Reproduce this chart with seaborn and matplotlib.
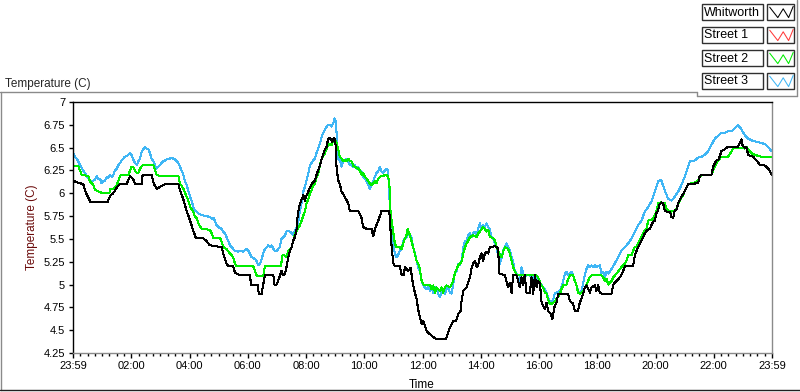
import matplotlib
matplotlib.use("Agg")
import matplotlib.pyplot as plt
import pandas as pd
import seaborn as sns
from matplotlib.lines import Line2D
from matplotlib.patches import Rectangle
from matplotlib.ticker import MultipleLocator

# time in hours after the 23:59 start, temperature in C
WHITWORTH = [
    (0.00, 6.14), (0.13, 6.12), (0.35, 6.10), (0.45, 6.00), (0.56, 5.93), (0.60, 5.90), (1.18, 5.90),
    (1.27, 5.97), (1.38, 6.00), (1.50, 6.06), (1.60, 6.10), (1.84, 6.10), (1.96, 6.19), (2.07, 6.15),
    (2.13, 6.10), (2.36, 6.10), (2.39, 6.20), (2.70, 6.20), (2.78, 6.10), (2.87, 6.05), (2.99, 6.07),
    (3.16, 6.10), (3.62, 6.10), (3.67, 6.04), (3.79, 5.93), (3.90, 5.81), (4.02, 5.70), (4.13, 5.59),
    (4.22, 5.51), (4.47, 5.51), (4.60, 5.47), (4.70, 5.43), (5.10, 5.41), (5.16, 5.34), (5.27, 5.23),
    (5.33, 5.20), (5.50, 5.20), (5.56, 5.13), (5.73, 5.10), (6.08, 5.10), (6.11, 5.00), (6.34, 5.00),
    (6.38, 4.90), (6.48, 4.90), (6.53, 5.00), (6.59, 5.10), (6.88, 5.10), (6.91, 5.00), (6.99, 5.00),
    (7.11, 5.10), (7.16, 5.15), (7.22, 5.10), (7.28, 5.12), (7.33, 5.19), (7.39, 5.30), (7.45, 5.37),
    (7.51, 5.41), (7.56, 5.48), (7.62, 5.52), (7.68, 5.61), (7.71, 5.74), (7.76, 5.85), (7.83, 5.92),
    (7.91, 5.98), (7.96, 5.92), (8.02, 5.98), (8.08, 6.02), (8.19, 6.10), (8.31, 6.14), (8.36, 6.20),
    (8.48, 6.31), (8.56, 6.40), (8.65, 6.48), (8.71, 6.51), (8.76, 6.60), (8.85, 6.60), (8.90, 6.56),
    (8.94, 6.60), (8.99, 6.60), (9.03, 6.48), (9.05, 6.27), (9.11, 6.14), (9.16, 6.10), (9.22, 6.02),
    (9.33, 5.96), (9.45, 5.89), (9.50, 5.81), (9.79, 5.81), (9.90, 5.74), (9.96, 5.63), (10.08, 5.61),
    (10.25, 5.61), (10.31, 5.53), (10.37, 5.61), (10.48, 5.70), (10.57, 5.78), (10.59, 5.81), (10.82, 5.81),
    (10.86, 5.80), (10.94, 5.41), (11.00, 5.23), (11.05, 5.20), (11.22, 5.20), (11.28, 5.11), (11.37, 5.11),
    (11.39, 5.19), (11.51, 5.15), (11.59, 5.18), (11.62, 5.12), (11.68, 4.99), (11.74, 4.91), (11.80, 4.84),
    (11.85, 4.73), (11.91, 4.64), (11.97, 4.57), (12.03, 4.60), (12.14, 4.49), (12.31, 4.44), (12.43, 4.41),
    (12.54, 4.40), (12.80, 4.40), (12.87, 4.46), (12.94, 4.53), (13.06, 4.60), (13.15, 4.60), (13.23, 4.68),
    (13.31, 4.71), (13.34, 4.82), (13.40, 4.93), (13.51, 4.97), (13.57, 5.02), (13.63, 5.08), (13.69, 5.19),
    (13.74, 5.23), (13.80, 5.26), (13.86, 5.19), (13.91, 5.21), (13.97, 5.30), (14.03, 5.34), (14.08, 5.26),
    (14.14, 5.34), (14.20, 5.36), (14.26, 5.34), (14.31, 5.41), (14.49, 5.42), (14.57, 5.41), (14.60, 5.36),
    (14.64, 5.12), (14.83, 5.10), (14.94, 4.97), (15.00, 5.02), (15.06, 4.91), (15.11, 5.10), (15.23, 5.10),
    (15.34, 4.97), (15.40, 5.08), (15.45, 5.00), (15.51, 5.10), (15.57, 4.91), (15.69, 4.91), (15.74, 5.08),
    (15.80, 4.90), (15.86, 5.10), (15.92, 4.97), (15.97, 5.04), (16.03, 5.02), (16.09, 4.80), (16.20, 4.73),
    (16.26, 4.80), (16.32, 4.71), (16.40, 4.68), (16.46, 4.62), (16.54, 4.77), (16.60, 4.80), (16.66, 4.90),
    (17.00, 4.90), (17.06, 4.82), (17.17, 4.79), (17.23, 4.71), (17.34, 4.71), (17.40, 4.80), (17.52, 4.90),
    (17.57, 4.97), (17.63, 4.99), (17.69, 4.95), (17.75, 4.91), (17.80, 4.97), (17.92, 4.99), (17.97, 4.93),
    (18.03, 4.99), (18.09, 4.91), (18.15, 4.90), (18.49, 4.90), (18.55, 5.00), (18.66, 5.04), (18.78, 5.08),
    (18.89, 5.15), (18.95, 5.20), (19.23, 5.20), (19.29, 5.32), (19.35, 5.37), (19.40, 5.41), (19.52, 5.48),
    (19.58, 5.52), (19.63, 5.56), (19.69, 5.59), (19.81, 5.61), (19.86, 5.65), (19.92, 5.69), (19.98, 5.70),
    (20.03, 5.78), (20.09, 5.81), (20.12, 5.87), (20.20, 5.90), (20.26, 5.89), (20.32, 5.81), (20.38, 5.80),
    (20.49, 5.80), (20.55, 5.74), (20.61, 5.73), (20.66, 5.81), (20.72, 5.82), (20.78, 5.89), (20.89, 5.96),
    (21.00, 6.02), (21.06, 6.06), (21.12, 6.10), (21.46, 6.11), (21.52, 6.19), (21.58, 6.20), (21.92, 6.20),
    (21.98, 6.29), (22.09, 6.36), (22.17, 6.37), (22.26, 6.46), (22.37, 6.48), (22.49, 6.51), (22.83, 6.51),
    (22.89, 6.55), (22.95, 6.59), (22.98, 6.53), (23.06, 6.50), (23.12, 6.51), (23.18, 6.42), (23.35, 6.40),
    (23.47, 6.36), (23.58, 6.31), (23.70, 6.31), (23.81, 6.29), (23.92, 6.25), (23.99, 6.20),
]

STREET_1 = []  # listed in the legend, no trace visible

STREET_2 = [
    (0.00, 6.30), (0.18, 6.30), (0.24, 6.25), (0.30, 6.20), (0.53, 6.19), (0.58, 6.13), (0.70, 6.09),
    (0.75, 6.04), (0.81, 6.03), (0.95, 6.01), (0.99, 6.00), (1.25, 6.00), (1.27, 6.05), (1.38, 6.05),
    (1.50, 6.09), (1.56, 6.14), (1.61, 6.19), (1.67, 6.20), (1.90, 6.20), (1.96, 6.25), (2.01, 6.29),
    (2.07, 6.29), (2.13, 6.25), (2.19, 6.22), (2.24, 6.22), (2.30, 6.27), (2.36, 6.30), (2.41, 6.31),
    (2.76, 6.31), (2.87, 6.20), (2.99, 6.19), (3.62, 6.19), (3.67, 6.11), (3.79, 6.05), (3.90, 5.96),
    (3.96, 5.92), (4.02, 5.85), (4.13, 5.80), (4.19, 5.74), (4.25, 5.73), (4.30, 5.67), (4.42, 5.61),
    (4.70, 5.60), (4.76, 5.56), (4.82, 5.51), (5.05, 5.51), (5.10, 5.47), (5.16, 5.41), (5.27, 5.39),
    (5.39, 5.34), (5.45, 5.32), (5.50, 5.30), (5.56, 5.23), (5.62, 5.20), (6.19, 5.20), (6.25, 5.15),
    (6.30, 5.10), (6.53, 5.09), (6.59, 5.20), (7.14, 5.20), (7.19, 5.32), (7.25, 5.32), (7.33, 5.30),
    (7.39, 5.37), (7.51, 5.41), (7.56, 5.48), (7.62, 5.56), (7.68, 5.59), (7.79, 5.65), (7.85, 5.70),
    (7.91, 5.76), (7.96, 5.80), (8.02, 5.89), (8.08, 5.94), (8.14, 6.00), (8.19, 6.03), (8.25, 6.09),
    (8.31, 6.11), (8.36, 6.17), (8.42, 6.22), (8.48, 6.31), (8.54, 6.38), (8.65, 6.44), (8.71, 6.49),
    (8.76, 6.53), (8.82, 6.54), (8.88, 6.53), (8.94, 6.59), (8.99, 6.60), (9.05, 6.55), (9.11, 6.48),
    (9.16, 6.40), (9.22, 6.38), (9.28, 6.35), (9.34, 6.36), (9.39, 6.35), (9.45, 6.38), (9.51, 6.35),
    (9.57, 6.35), (9.62, 6.30), (9.68, 6.29), (9.79, 6.27), (9.85, 6.25), (9.91, 6.20), (9.97, 6.22),
    (10.02, 6.18), (10.08, 6.16), (10.14, 6.13), (10.19, 6.11), (10.25, 6.09), (10.31, 6.11), (10.37, 6.13),
    (10.42, 6.11), (10.48, 6.16), (10.59, 6.19), (10.77, 6.20), (10.82, 6.18), (10.86, 6.13), (10.90, 5.81),
    (10.94, 5.70), (11.00, 5.56), (11.05, 5.45), (11.11, 5.41), (11.22, 5.41), (11.28, 5.39), (11.34, 5.45),
    (11.39, 5.50), (11.45, 5.54), (11.49, 5.61), (11.57, 5.54), (11.62, 5.48), (11.68, 5.41), (11.74, 5.34),
    (11.80, 5.26), (11.85, 5.23), (11.91, 5.17), (11.97, 5.04), (12.03, 5.00), (12.26, 5.00), (12.31, 4.95),
    (12.37, 4.99), (12.43, 4.91), (12.48, 4.97), (12.54, 4.95), (12.60, 4.93), (12.65, 4.97), (12.71, 4.91),
    (12.77, 4.97), (12.83, 4.99), (12.94, 4.97), (13.00, 5.00), (13.05, 5.04), (13.11, 5.12), (13.17, 5.17),
    (13.23, 5.21), (13.28, 5.23), (13.34, 5.25), (13.40, 5.34), (13.46, 5.41), (13.51, 5.45), (13.57, 5.48),
    (13.63, 5.52), (13.74, 5.54), (13.86, 5.52), (13.91, 5.56), (13.97, 5.58), (14.08, 5.63), (14.14, 5.61),
    (14.20, 5.58), (14.26, 5.60), (14.31, 5.52), (14.43, 5.51), (14.49, 5.48), (14.54, 5.41), (14.60, 5.37),
    (14.66, 5.32), (14.72, 5.30), (14.77, 5.36), (14.83, 5.41), (14.94, 5.39), (15.00, 5.34), (15.06, 5.26),
    (15.11, 5.19), (15.17, 5.15), (15.23, 5.10), (15.91, 5.10), (15.97, 5.08), (16.02, 5.04), (16.08, 4.99),
    (16.14, 4.97), (16.20, 4.91), (16.26, 4.90), (16.31, 4.84), (16.37, 4.79), (16.43, 4.79), (16.49, 4.80),
    (16.60, 4.84), (16.72, 4.90), (16.77, 4.95), (16.83, 4.99), (16.94, 5.00), (17.00, 5.06), (17.06, 5.10),
    (17.17, 5.10), (17.23, 5.04), (17.29, 4.99), (17.34, 4.91), (17.40, 4.90), (17.52, 4.93), (17.63, 5.00),
    (17.74, 5.08), (17.80, 5.10), (18.15, 5.10), (18.20, 5.08), (18.26, 5.04), (18.32, 5.06), (18.38, 5.00),
    (18.43, 5.02), (18.49, 5.04), (18.55, 5.08), (18.66, 5.12), (18.78, 5.17), (18.83, 5.19), (18.89, 5.21),
    (18.95, 5.23), (19.00, 5.26), (19.06, 5.32), (19.17, 5.32), (19.23, 5.37), (19.29, 5.41), (19.35, 5.41),
    (19.40, 5.45), (19.52, 5.52), (19.58, 5.56), (19.63, 5.59), (19.69, 5.61), (19.75, 5.70), (19.86, 5.71),
    (19.92, 5.72), (19.98, 5.76), (20.03, 5.80), (20.09, 5.89), (20.20, 5.90), (20.32, 5.89), (20.38, 5.83),
    (20.43, 5.81), (20.55, 5.80), (20.66, 5.81), (20.72, 5.83), (20.78, 5.89), (20.83, 5.91), (20.89, 5.96),
    (20.95, 5.98), (21.00, 6.02), (21.12, 6.10), (21.35, 6.12), (21.46, 6.14), (21.52, 6.18), (21.58, 6.20),
    (21.92, 6.20), (21.98, 6.25), (22.04, 6.30), (22.15, 6.36), (22.26, 6.40), (22.49, 6.40), (22.61, 6.46),
    (22.66, 6.49), (22.72, 6.50), (22.95, 6.50), (23.06, 6.49), (23.12, 6.51), (23.18, 6.48), (23.24, 6.46),
    (23.29, 6.44), (23.41, 6.42), (23.52, 6.41), (23.64, 6.40), (23.99, 6.40),
]

STREET_3 = [
    (0.00, 6.44), (0.07, 6.40), (0.13, 6.38), (0.18, 6.35), (0.24, 6.31), (0.35, 6.25), (0.41, 6.22),
    (0.53, 6.16), (0.58, 6.14), (0.64, 6.13), (0.70, 6.14), (0.76, 6.15), (0.81, 6.19), (0.87, 6.16),
    (0.93, 6.16), (0.98, 6.11), (1.04, 6.13), (1.10, 6.14), (1.16, 6.18), (1.21, 6.17), (1.27, 6.20),
    (1.33, 6.18), (1.38, 6.20), (1.44, 6.25), (1.50, 6.27), (1.56, 6.31), (1.61, 6.33), (1.67, 6.36),
    (1.73, 6.38), (1.78, 6.40), (1.84, 6.41), (1.90, 6.42), (1.96, 6.44), (2.01, 6.42), (2.07, 6.37),
    (2.13, 6.33), (2.19, 6.31), (2.24, 6.35), (2.30, 6.38), (2.36, 6.46), (2.41, 6.48), (2.47, 6.51),
    (2.53, 6.49), (2.59, 6.48), (2.64, 6.44), (2.70, 6.38), (2.76, 6.35), (2.81, 6.31), (2.87, 6.27),
    (2.93, 6.29), (2.99, 6.31), (3.04, 6.33), (3.10, 6.35), (3.16, 6.36), (3.22, 6.37), (3.33, 6.38),
    (3.39, 6.39), (3.44, 6.38), (3.50, 6.37), (3.56, 6.35), (3.62, 6.33), (3.67, 6.29), (3.73, 6.25),
    (3.79, 6.20), (3.84, 6.14), (3.90, 6.09), (3.96, 6.03), (4.02, 5.96), (4.07, 5.92), (4.13, 5.85),
    (4.19, 5.81), (4.24, 5.80), (4.30, 5.78), (4.42, 5.76), (4.59, 5.75), (4.70, 5.74), (4.76, 5.72),
    (4.82, 5.73), (4.87, 5.70), (4.93, 5.65), (4.99, 5.63), (5.10, 5.61), (5.16, 5.58), (5.22, 5.56),
    (5.27, 5.52), (5.33, 5.48), (5.39, 5.43), (5.45, 5.41), (5.50, 5.39), (5.56, 5.37), (5.68, 5.36),
    (5.73, 5.37), (5.85, 5.36), (5.96, 5.39), (6.02, 5.37), (6.13, 5.30), (6.25, 5.28), (6.30, 5.26),
    (6.36, 5.21), (6.42, 5.23), (6.48, 5.28), (6.53, 5.34), (6.59, 5.39), (6.65, 5.41), (6.71, 5.43),
    (6.76, 5.41), (6.82, 5.43), (6.88, 5.39), (6.93, 5.37), (6.99, 5.37), (7.05, 5.39), (7.10, 5.41),
    (7.16, 5.50), (7.22, 5.52), (7.28, 5.54), (7.33, 5.58), (7.39, 5.59), (7.45, 5.58), (7.51, 5.56),
    (7.56, 5.54), (7.62, 5.59), (7.68, 5.63), (7.74, 5.70), (7.79, 5.81), (7.85, 5.89), (7.91, 6.02),
    (7.96, 6.07), (8.02, 6.14), (8.08, 6.22), (8.14, 6.31), (8.19, 6.33), (8.25, 6.36), (8.31, 6.38),
    (8.36, 6.44), (8.42, 6.49), (8.48, 6.55), (8.54, 6.62), (8.59, 6.66), (8.65, 6.70), (8.71, 6.73),
    (8.76, 6.75), (8.82, 6.75), (8.88, 6.73), (8.94, 6.77), (8.97, 6.82), (9.01, 6.81), (9.05, 6.66),
    (9.08, 6.40), (9.13, 6.36), (9.16, 6.38), (9.22, 6.29), (9.28, 6.36), (9.34, 6.35), (9.39, 6.38),
    (9.45, 6.35), (9.51, 6.31), (9.57, 6.31), (9.62, 6.29), (9.68, 6.31), (9.74, 6.27), (9.79, 6.29),
    (9.85, 6.25), (9.91, 6.24), (9.96, 6.18), (10.02, 6.16), (10.08, 6.13), (10.14, 6.09), (10.19, 6.05),
    (10.25, 6.09), (10.31, 6.13), (10.36, 6.18), (10.42, 6.22), (10.48, 6.24), (10.54, 6.29), (10.59, 6.24),
    (10.65, 6.22), (10.71, 6.25), (10.77, 6.27), (10.82, 6.25), (10.86, 5.96), (10.89, 5.85), (10.94, 5.56),
    (11.00, 5.45), (11.05, 5.34), (11.11, 5.30), (11.16, 5.32), (11.22, 5.37), (11.28, 5.39), (11.34, 5.48),
    (11.39, 5.50), (11.45, 5.52), (11.51, 5.56), (11.57, 5.54), (11.62, 5.52), (11.68, 5.41), (11.74, 5.34),
    (11.80, 5.26), (11.85, 5.19), (11.91, 5.15), (11.97, 5.04), (12.03, 4.99), (12.08, 4.97), (12.14, 4.95),
    (12.20, 4.97), (12.26, 4.93), (12.31, 4.97), (12.37, 4.91), (12.43, 4.97), (12.48, 4.95), (12.54, 4.90),
    (12.60, 4.86), (12.65, 4.91), (12.71, 4.93), (12.77, 4.90), (12.83, 4.95), (12.88, 4.97), (12.94, 4.91),
    (13.00, 4.90), (13.05, 4.99), (13.11, 5.12), (13.17, 5.15), (13.23, 5.23), (13.28, 5.21), (13.34, 5.26),
    (13.40, 5.41), (13.46, 5.48), (13.51, 5.48), (13.57, 5.54), (13.63, 5.56), (13.69, 5.52), (13.74, 5.56),
    (13.80, 5.58), (13.86, 5.54), (13.91, 5.61), (13.97, 5.67), (14.03, 5.61), (14.08, 5.65), (14.14, 5.63),
    (14.20, 5.67), (14.26, 5.63), (14.31, 5.61), (14.37, 5.52), (14.43, 5.50), (14.49, 5.45), (14.54, 5.41),
    (14.60, 5.32), (14.66, 5.23), (14.72, 5.30), (14.77, 5.37), (14.83, 5.41), (14.89, 5.45), (14.94, 5.41),
    (15.00, 5.37), (15.06, 5.30), (15.11, 5.25), (15.17, 5.15), (15.23, 5.12), (15.29, 5.04), (15.34, 5.02),
    (15.40, 5.19), (15.46, 5.12), (15.51, 5.08), (15.57, 5.10), (15.69, 5.10), (15.80, 5.06), (15.86, 5.10),
    (15.91, 5.08), (15.97, 5.04), (16.03, 5.02), (16.09, 5.00), (16.14, 4.97), (16.20, 4.95), (16.26, 4.91),
    (16.31, 4.86), (16.37, 4.82), (16.43, 4.80), (16.49, 4.84), (16.54, 4.90), (16.60, 4.91), (16.72, 4.93),
    (16.77, 4.97), (16.83, 5.04), (16.89, 5.12), (16.94, 5.14), (17.00, 5.10), (17.06, 5.12), (17.12, 5.14),
    (17.17, 5.10), (17.23, 5.04), (17.29, 4.99), (17.34, 4.93), (17.40, 4.90), (17.46, 4.93), (17.52, 5.02),
    (17.57, 5.10), (17.63, 5.17), (17.69, 5.21), (17.74, 5.19), (17.80, 5.21), (17.86, 5.19), (17.92, 5.21),
    (17.97, 5.19), (18.09, 5.21), (18.15, 5.12), (18.20, 5.14), (18.26, 5.08), (18.32, 5.14), (18.38, 5.12),
    (18.49, 5.17), (18.60, 5.23), (18.72, 5.30), (18.83, 5.37), (18.95, 5.41), (19.06, 5.45), (19.17, 5.50),
    (19.29, 5.58), (19.40, 5.65), (19.52, 5.70), (19.63, 5.80), (19.75, 5.85), (19.86, 5.91), (19.98, 6.02),
    (20.09, 6.13), (20.14, 6.14), (20.20, 6.14), (20.32, 6.03), (20.43, 5.94), (20.55, 5.92), (20.66, 5.96),
    (20.78, 6.02), (20.89, 6.09), (21.00, 6.18), (21.12, 6.29), (21.18, 6.35), (21.35, 6.36), (21.46, 6.39),
    (21.58, 6.40), (21.69, 6.42), (21.81, 6.46), (21.92, 6.53), (22.04, 6.60), (22.15, 6.63), (22.26, 6.66),
    (22.37, 6.66), (22.49, 6.68), (22.61, 6.68), (22.72, 6.71), (22.83, 6.75), (22.95, 6.70), (23.06, 6.64),
    (23.18, 6.60), (23.29, 6.58), (23.41, 6.57), (23.52, 6.56), (23.64, 6.55), (23.75, 6.54), (23.86, 6.51),
    (23.99, 6.46),
]

SERIES = ["Whitworth", "Street 1", "Street 2", "Street 3"]
COLORS = ["#000000", "#ff3a3a", "#00ee00", "#3fb6f5"]
HOUR_TICKS = list(range(0, 25, 2))
HOUR_LABELS = ["23:59", "02:00", "04:00", "06:00", "08:00", "10:00", "12:00",
               "14:00", "16:00", "18:00", "20:00", "22:00", "23:59"]
Y_TICKS = [4.25, 4.5, 4.75, 5, 5.25, 5.5, 5.75, 6, 6.25, 6.5, 6.75, 7]
Y_LABELS = ["4.25", "4.5", "4.75", "5", "5.25", "5.5", "5.75", "6", "6.25", "6.5", "6.75", "7"]

frames = []
for name, pts in zip(SERIES, [WHITWORTH, STREET_1, STREET_2, STREET_3]):
    for t, v in pts:
        frames.append((name, t, v))
df = pd.DataFrame(frames, columns=["series", "hours", "temp"])

sns.set_style("white")
plt.rcParams["font.family"] = ["Liberation Sans", "DejaVu Sans"]

W, H = 800, 392
fig = plt.figure(figsize=(W / 100, H / 100), dpi=100)
ax = fig.add_axes([73 / W, 1 - 353 / H, 699 / W, 251 / H])

# draw street 3 first so the black trace ends up on top
for name in reversed(SERIES):
    sub = df[df["series"] == name]
    if sub.empty:
        continue
    sns.lineplot(data=sub, x="hours", y="temp", ax=ax, color=COLORS[SERIES.index(name)],
                 estimator=None, sort=False, lw=0.75, legend=False, antialiased=False)

ax.set_xlim(0, 24)
ax.set_ylim(4.25, 7)
ax.set_xticks(HOUR_TICKS)
ax.set_xticklabels(HOUR_LABELS)
ax.xaxis.set_minor_locator(MultipleLocator(0.25))
ax.set_yticks(Y_TICKS)
ax.set_yticklabels(Y_LABELS)
ax.tick_params(axis="x", which="major", direction="out", length=3.6, width=1, color="black",
               pad=2.5, labelsize=8, labelcolor="black", bottom=True)
ax.tick_params(axis="x", which="minor", direction="out", length=2.2, width=1, color="black", bottom=True)
ax.tick_params(axis="y", which="major", direction="out", length=2.9, width=1, color="black",
               pad=2.8, labelsize=8, labelcolor="black", left=True)

for side, col in [("top", "black"), ("left", "black"), ("right", "#8a8a8a"), ("bottom", "#8a8a8a")]:
    ax.spines[side].set_visible(True)
    ax.spines[side].set_color(col)
    ax.spines[side].set_linewidth(1)

ax.set_xlabel("Time", fontsize=8.5, color="black")
ax.xaxis.set_label_coords(0.4993, -0.103)
ax.set_ylabel("Temperature (C)", fontsize=8.5, color="#6a0a0a")
ax.yaxis.set_label_coords(-0.050, 0.5)

fig.text(5 / W, 1 - 86.5 / H, "Temperature (C)", fontsize=8.5, va="baseline", ha="left")


def px_line(x0, y0, x1, y1, color):
    fig.add_artist(Line2D([x0 / W, x1 / W], [1 - y0 / H, 1 - y1 / H],
                          transform=fig.transFigure, color=color, lw=1))


# panel borders
px_line(0, 92, 697, 92, "#8a8a8a")
px_line(697, 92, 697, 96, "#8a8a8a")
px_line(697, 96, 797, 96, "#8a8a8a")
px_line(796.5, 0, 796.5, 96, "#8a8a8a")
px_line(1, 92, 1, 390, "#8a8a8a")
px_line(0, 390, 800, 390, "#202020")

# legend panel
lax = fig.add_axes([697 / W, 1 - 96 / H, 100 / W, 96 / H])
lax.set_xlim(0, 100)
lax.set_ylim(96, 0)
lax.axis("off")
zig_x = [0.10, 0.40, 0.60, 0.80, 0.97]
zig_y = [0.20, 0.85, 0.30, 0.85, 0.15]
for i, (name, col) in enumerate(zip(SERIES, COLORS)):
    top = 4 + 23 * i
    lax.add_patch(Rectangle((5, top), 61, 16, facecolor="white", edgecolor="#303030", lw=1))
    lax.add_patch(Rectangle((70, top), 27, 16, facecolor="white", edgecolor="#303030", lw=1))
    lax.text(7, top + 8.5, name, fontsize=9, va="center", ha="left", color="black")
    lax.plot([70 + 27 * zx for zx in zig_x], [top + 16 * zy for zy in zig_y], color=col, lw=0.75)

fig.savefig("out.png", dpi=100)
